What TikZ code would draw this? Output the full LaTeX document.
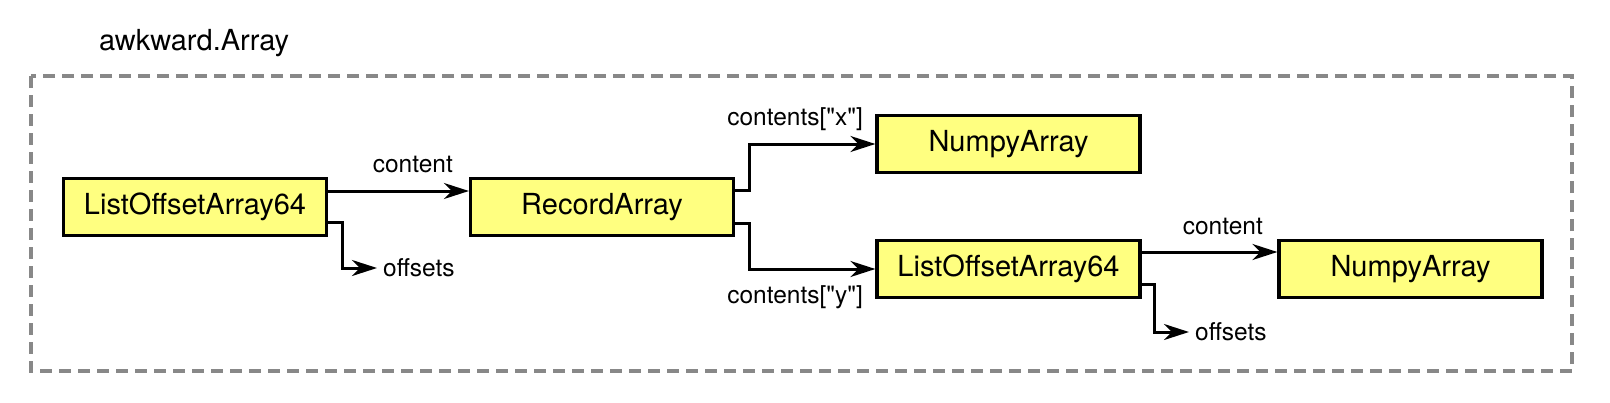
\documentclass[tikz,border=0pt]{standalone}
\usepackage{fontspec}
\setmainfont{TeX Gyre Heros}[Ligatures=TeXOff]
\usetikzlibrary{arrows.meta}
\definecolor{boxfill}{RGB}{255,255,128}
\definecolor{framegray}{RGB}{136,136,136}
\tikzset{
  layoutbox/.style={draw=black, fill=boxfill, line width=3.2pt, minimum width=263pt, minimum height=57pt, inner sep=0pt, font=\fontsize{29}{33}\selectfont},
  conn/.style={line width=3pt, -{Stealth[length=25pt,width=16pt,inset=8pt]}},
  lbl/.style={inner sep=0pt, font=\fontsize{24.5}{28}\selectfont},
  endlbl/.style={inner xsep=6pt, inner ysep=0pt, font=\fontsize{24.5}{28}\selectfont, anchor=west},
  frame/.style={draw=framegray, line width=3.2pt, dash pattern=on 12pt off 7pt}
}
\begin{document}
\begin{tikzpicture}[x=1pt,y=-1pt]
\useasboundingbox (0,0) rectangle (1610,402);
\draw[frame] (31,76) rectangle (1572,371);
\node[lbl, anchor=base west, font=\fontsize{29}{33}\selectfont] (title) at (99,50) {awkward.Array};
\node[layoutbox] (A) at (195,207) {ListOffsetArray64};
\node[layoutbox] (B) at (602,207) {RecordArray};
\node[layoutbox] (C) at (1008.5,144) {NumpyArray};
\node[layoutbox] (D) at (1008.5,269) {ListOffsetArray64};
\node[layoutbox] (E) at (1410.5,269) {NumpyArray};
\node[endlbl] (o1) at (377,268) {offsets};
\node[endlbl] (o2) at (1189,332) {offsets};
\draw[conn] ([yshift=16pt]A.east) -- ([yshift=16pt]B.west);
\draw[conn] ([yshift=-15pt]A.east) -- ++(14,0) |- (o1.west);
\draw[conn] ([yshift=17pt]B.east) -- ++(14,0) |- (C.west);
\draw[conn] ([yshift=-16pt]B.east) -- ++(14,0) |- (D.west);
\draw[conn] ([yshift=17pt]D.east) -- ([yshift=17pt]E.west);
\draw[conn] ([yshift=-15pt]D.east) -- ++(13,0) |- (o2.west);
\node[lbl, anchor=base east] (l1) at (453,172) {content};
\node[lbl, anchor=base east] (l2) at (863,125) {contents["x"]};
\node[lbl, anchor=base east] (l3) at (863,303) {contents["y"]};
\node[lbl, anchor=base east] (l4) at (1263,234) {content};
\end{tikzpicture}
\end{document}
